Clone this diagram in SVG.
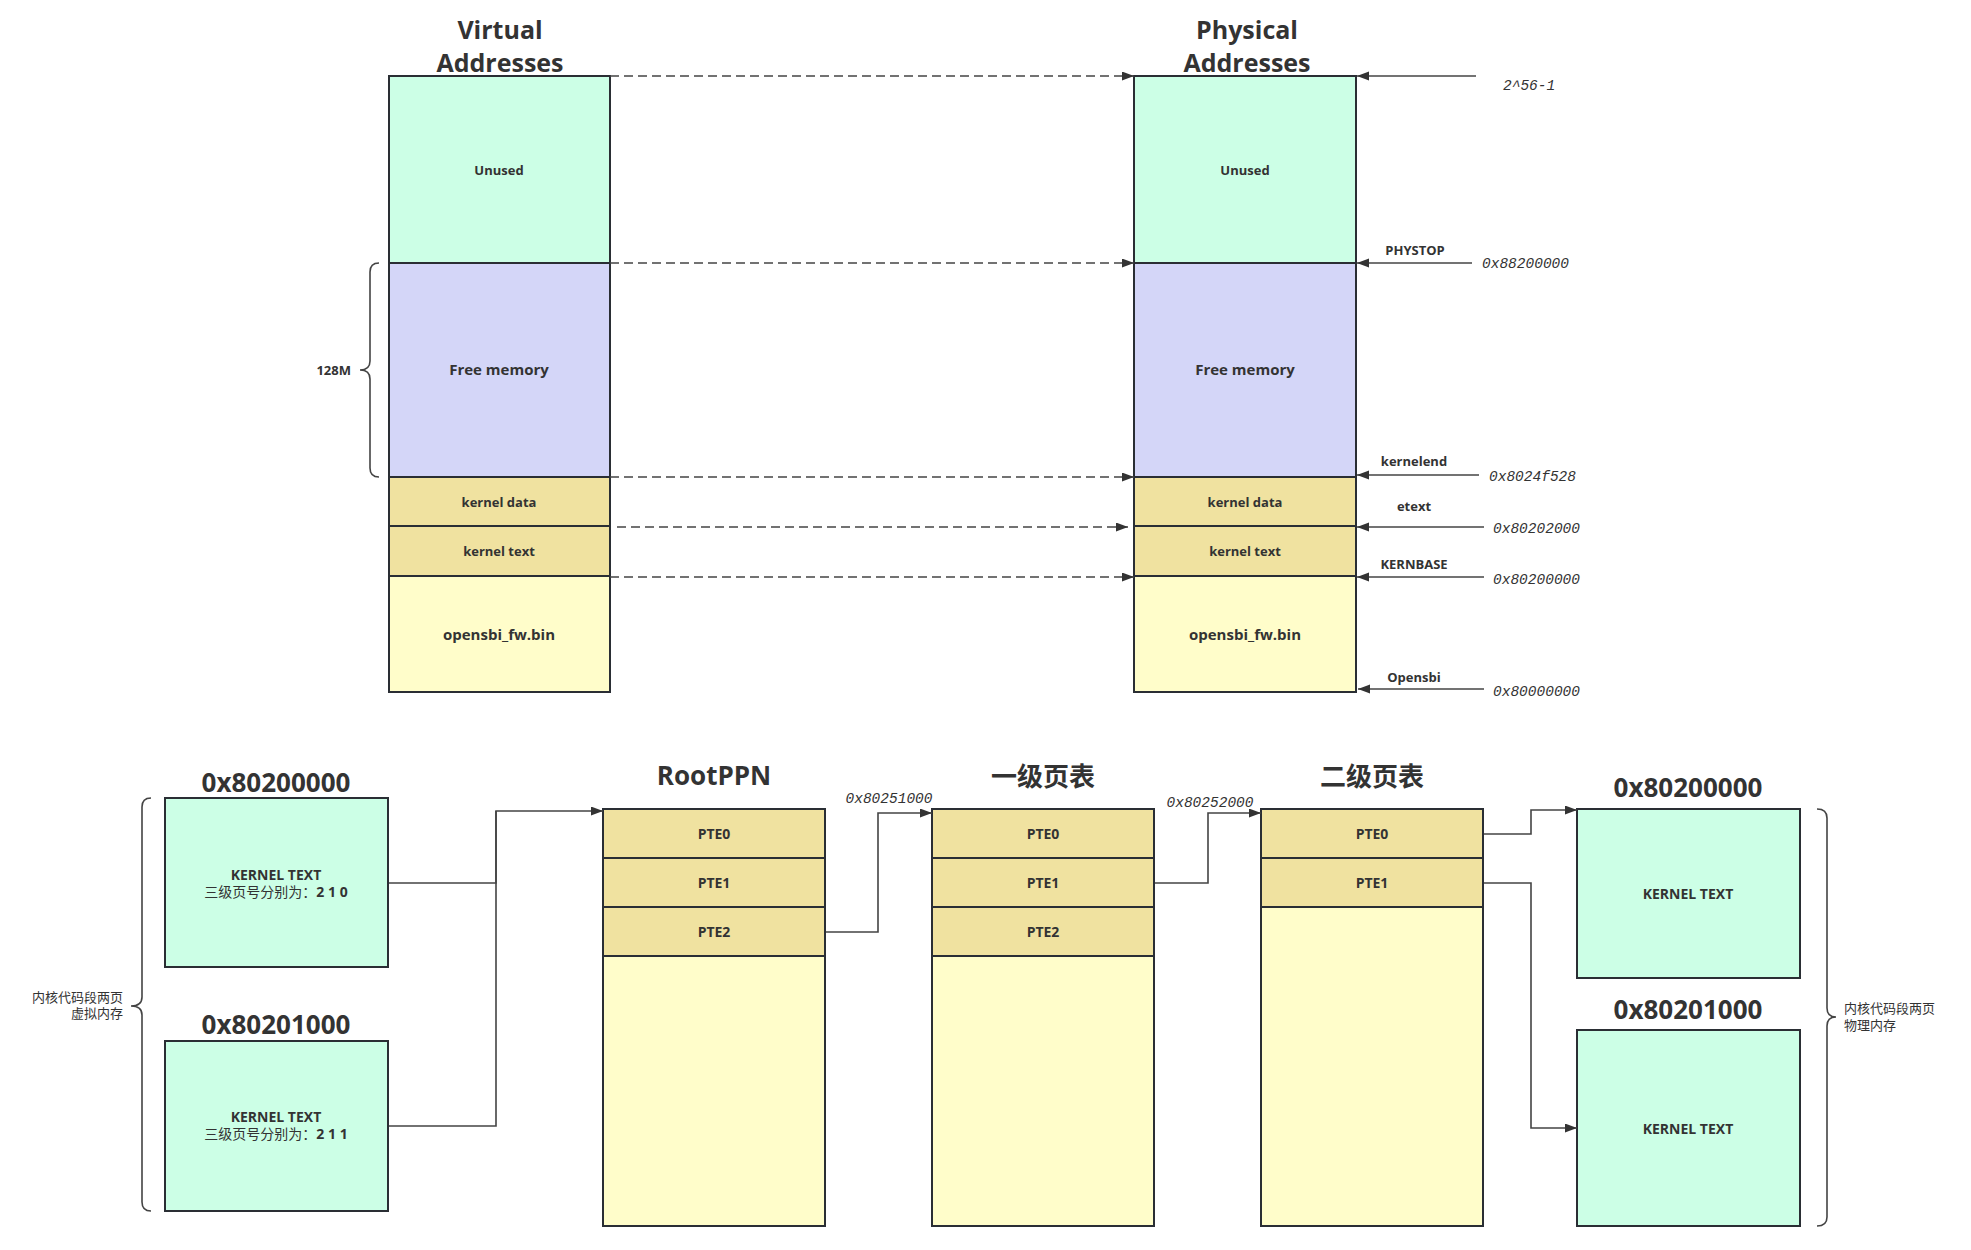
<svg xmlns="http://www.w3.org/2000/svg" width="1971" height="1250" viewBox="0 0 1971 1250">
<style>
.bx{stroke:#2a2e34;stroke-width:2}
.mint{fill:#CCFFE6}.lav{fill:#D4D6F8}.kh{fill:#F0E2A0}.ly{fill:#FFFDCA}
text{font-family:"Open Sans","Noto Sans CJK SC",sans-serif;fill:#333;}
.c{text-anchor:middle}
.b{font-weight:bold}
.t26{font-size:26px;font-weight:bold}
.t25{font-size:25px;font-weight:bold}
.t13{font-size:13px}
.t14{font-size:14px}
.t15{font-size:15px}
.mono{font-family:"Liberation Mono","DejaVu Sans Mono",monospace;font-style:italic;font-size:14.5px;fill:#333}
.ln{fill:none;stroke:#444;stroke-width:1.6}
.dash{fill:none;stroke:#444;stroke-width:1.6;stroke-dasharray:9 5}
.br{fill:none;stroke:#444;stroke-width:1.6}
</style>
<defs>
<marker id="ah" markerUnits="userSpaceOnUse" markerWidth="14" markerHeight="10" refX="12" refY="4.5" orient="auto">
<path d="M0,0 L12,4.5 L0,9 z" fill="#333"/>
</marker>
</defs>
<rect width="1971" height="1250" fill="#fff"/>

<!-- titles -->
<g id="title-virtual">
<text class="t25 c" x="500" y="39">Virtual</text>
<text class="t25 c" x="500" y="72">Addresses</text>
</g>
<g id="title-physical">
<text class="t25 c" x="1247" y="39">Physical</text>
<text class="t25 c" x="1247" y="72">Addresses</text>
</g>

<!-- virtual memory column -->
<g id="virtual-unused"><rect class="bx mint" x="389" y="76" width="221" height="187"/><text class="t13 b c" x="499" y="175">Unused</text></g>
<g id="virtual-free"><rect class="bx lav" x="389" y="263" width="221" height="214"/><text class="t15 b c" x="499" y="375">Free memory</text></g>
<g id="virtual-kdata"><rect class="bx kh" x="389" y="477" width="221" height="49"/><text class="t13 b c" x="499" y="507">kernel data</text></g>
<g id="virtual-ktext"><rect class="bx kh" x="389" y="526" width="221" height="50"/><text class="t13 b c" x="499" y="556">kernel text</text></g>
<g id="virtual-opensbi"><rect class="bx ly" x="389" y="576" width="221" height="116"/><text class="t15 b c" x="499" y="640">opensbi_fw.bin</text></g>

<!-- physical memory column -->
<g id="physical-unused"><rect class="bx mint" x="1134" y="76" width="222" height="187"/><text class="t13 b c" x="1245" y="175">Unused</text></g>
<g id="physical-free"><rect class="bx lav" x="1134" y="263" width="222" height="214"/><text class="t15 b c" x="1245" y="375">Free memory</text></g>
<g id="physical-kdata"><rect class="bx kh" x="1134" y="477" width="222" height="49"/><text class="t13 b c" x="1245" y="507">kernel data</text></g>
<g id="physical-ktext"><rect class="bx kh" x="1134" y="526" width="222" height="50"/><text class="t13 b c" x="1245" y="556">kernel text</text></g>
<g id="physical-opensbi"><rect class="bx ly" x="1134" y="576" width="222" height="116"/><text class="t15 b c" x="1245" y="640">opensbi_fw.bin</text></g>

<!-- 128M brace -->
<g id="brace-128m">
<path class="br" d="M379,263 Q370,263 370,272 L370,361 Q370,370 360,370 Q370,370 370,379 L370,468 Q370,477 379,477"/>
<text class="t13 b" x="351" y="375" text-anchor="end">128M</text>
</g>

<!-- right side labels -->
<g id="labels-physical">
<text class="mono" x="1503" y="90">2^56-1</text>
<text class="t13 b c" x="1415" y="255">PHYSTOP</text>
<text class="mono" x="1482" y="268">0x88200000</text>
<text class="t13 b c" x="1414" y="466">kernelend</text>
<text class="mono" x="1489" y="481">0x8024f528</text>
<text class="t13 b c" x="1414" y="511">etext</text>
<text class="mono" x="1493" y="533">0x80202000</text>
<text class="t13 b c" x="1414" y="569">KERNBASE</text>
<text class="mono" x="1493" y="584">0x80200000</text>
<text class="t13 b c" x="1414" y="682">Opensbi</text>
<text class="mono" x="1493" y="696">0x80000000</text>
</g>

<!-- bottom: virtual pages -->
<g id="vpage-0">
<text class="t26 c" x="276" y="792">0x80200000</text>
<rect class="bx mint" x="165" y="798" width="223" height="169"/>
<text class="t14 b c" x="276" y="880">KERNEL TEXT</text>
<text class="t14 c" x="276" y="897">三级页号分别为：<tspan font-weight="bold">2 1 0</tspan></text>
</g>
<g id="vpage-1">
<text class="t26 c" x="276" y="1034">0x80201000</text>
<rect class="bx mint" x="165" y="1041" width="223" height="170"/>
<text class="t14 b c" x="276" y="1122">KERNEL TEXT</text>
<text class="t14 c" x="276" y="1139">三级页号分别为：<tspan font-weight="bold">2 1 1</tspan></text>
</g>
<g id="brace-virtual">
<path class="br" d="M151,798 Q142,798 142,807 L142,997 Q142,1006 131,1006 Q142,1006 142,1015 L142,1202 Q142,1211 151,1211"/>
<text class="t13" x="123" y="1002" text-anchor="end">内核代码段两页</text>
<text class="t13" x="123" y="1018" text-anchor="end">虚拟内存</text>
</g>

<!-- RootPPN -->
<g id="rootppn">
<text class="t26 c" x="714" y="785">RootPPN</text>
<rect class="bx kh" x="603" y="809" width="222" height="49"/><text class="t14 b c" x="714" y="839">PTE0</text>
<rect class="bx kh" x="603" y="858" width="222" height="49"/><text class="t14 b c" x="714" y="888">PTE1</text>
<rect class="bx kh" x="603" y="907" width="222" height="49"/><text class="t14 b c" x="714" y="937">PTE2</text>
<rect class="bx ly" x="603" y="956" width="222" height="270"/>
</g>

<!-- level 1 -->
<g id="level1">
<text class="t26 c" x="1043" y="786">一级页表</text>
<rect class="bx kh" x="932" y="809" width="222" height="49"/><text class="t14 b c" x="1043" y="839">PTE0</text>
<rect class="bx kh" x="932" y="858" width="222" height="49"/><text class="t14 b c" x="1043" y="888">PTE1</text>
<rect class="bx kh" x="932" y="907" width="222" height="49"/><text class="t14 b c" x="1043" y="937">PTE2</text>
<rect class="bx ly" x="932" y="956" width="222" height="270"/>
</g>

<!-- level 2 -->
<g id="level2">
<text class="t26 c" x="1372" y="786">二级页表</text>
<rect class="bx kh" x="1261" y="809" width="222" height="49"/><text class="t14 b c" x="1372" y="839">PTE0</text>
<rect class="bx kh" x="1261" y="858" width="222" height="49"/><text class="t14 b c" x="1372" y="888">PTE1</text>
<rect class="bx ly" x="1261" y="907" width="222" height="319"/>
</g>

<!-- physical pages -->
<g id="ppage-0">
<text class="t26 c" x="1688" y="797">0x80200000</text>
<rect class="bx mint" x="1577" y="809" width="223" height="169"/>
<text class="t14 b c" x="1688" y="899">KERNEL TEXT</text>
</g>
<g id="ppage-1">
<text class="t26 c" x="1688" y="1019">0x80201000</text>
<rect class="bx mint" x="1577" y="1030" width="223" height="196"/>
<text class="t14 b c" x="1688" y="1134">KERNEL TEXT</text>
</g>
<g id="brace-physical">
<path class="br" d="M1817,809 Q1827,809 1827,818 L1827,1008 Q1827,1017 1836,1017 Q1827,1017 1827,1026 L1827,1217 Q1827,1226 1817,1226"/>
<text class="t13" x="1844" y="1013">内核代码段两页</text>
<text class="t13" x="1844" y="1030">物理内存</text>
</g>

<!-- connectors -->
<g id="connectors">
<line class="dash" x1="610" y1="76" x2="1134" y2="76" marker-end="url(#ah)"/>
<line class="dash" x1="610" y1="263" x2="1134" y2="263" marker-end="url(#ah)"/>
<line class="dash" x1="610" y1="477" x2="1134" y2="477" marker-end="url(#ah)"/>
<line class="dash" x1="617" y1="527" x2="1128" y2="527" marker-end="url(#ah)"/>
<line class="dash" x1="610" y1="577" x2="1134" y2="577" marker-end="url(#ah)"/>

<line class="ln" x1="1476" y1="76" x2="1357" y2="76" marker-end="url(#ah)"/>
<line class="ln" x1="1472" y1="263" x2="1357" y2="263" marker-end="url(#ah)"/>
<line class="ln" x1="1479" y1="475" x2="1357" y2="475" marker-end="url(#ah)"/>
<line class="ln" x1="1484" y1="527" x2="1357" y2="527" marker-end="url(#ah)"/>
<line class="ln" x1="1484" y1="577" x2="1357" y2="577" marker-end="url(#ah)"/>
<line class="ln" x1="1484" y1="689" x2="1358" y2="689" marker-end="url(#ah)"/>

<polyline class="ln" points="389,883 496,883 496,811 603,811" marker-end="url(#ah)"/>
<polyline class="ln" points="389,1126 496,1126 496,811"/>
<polyline class="ln" points="826,932 878,932 878,813 932,813" marker-end="url(#ah)"/>
<text class="mono" x="889" y="803" text-anchor="middle">0x80251000</text>
<polyline class="ln" points="1155,883 1208,883 1208,813 1261,813" marker-end="url(#ah)"/>
<text class="mono" x="1210" y="807" text-anchor="middle">0x80252000</text>
<polyline class="ln" points="1484,834 1531,834 1531,810 1577,810" marker-end="url(#ah)"/>
<polyline class="ln" points="1484,883 1531,883 1531,1128 1577,1128" marker-end="url(#ah)"/>
</g>
</svg>
